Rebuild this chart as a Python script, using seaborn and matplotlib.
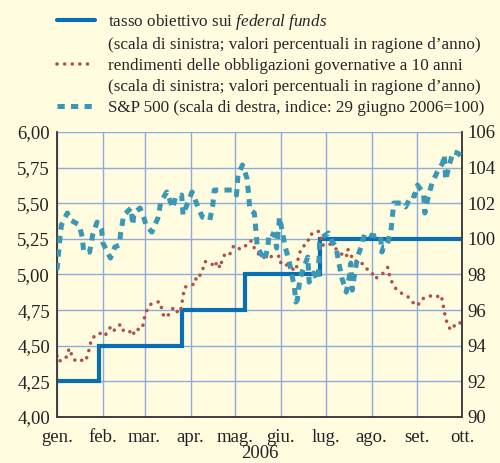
import pandas as pd
import seaborn as sns
import matplotlib.pyplot as plt
from matplotlib.lines import Line2D

# tasso obiettivo sui federal funds (scala di sinistra)
ff_dates = ['01-01', '01-29', '03-26', '05-08', '06-27', '10-01']
ff_rate = [4.25, 4.50, 4.75, 5.00, 5.25, 5.25]

# rendimenti obbligazioni a 10 anni (scala di sinistra)
bond_dates = ['01-01', '01-02', '01-07', '01-08', '01-10', '01-11', '01-14', '01-17',
              '01-20', '01-22', '01-23', '01-25', '01-29', '01-31', '02-03', '02-06',
              '02-08', '02-10', '02-13', '02-15', '02-19', '02-21', '02-23', '02-26',
              '02-28', '03-01', '03-03', '03-05', '03-08', '03-11', '03-13', '03-14',
              '03-17', '03-19', '03-21', '03-22', '03-25', '03-26', '03-27', '03-28',
              '04-02', '04-04', '04-05', '04-07', '04-09', '04-10', '04-11', '04-15',
              '04-17', '04-19', '04-21', '04-22', '04-24', '04-26', '04-28', '04-30',
              '05-02', '05-04', '05-07', '05-10', '05-12', '05-14', '05-16', '05-19',
              '05-23', '05-28', '05-31', '06-01', '06-03', '06-07', '06-11', '06-12',
              '06-13', '06-15', '06-19', '06-20', '06-25', '06-26', '06-28', '06-29',
              '07-03', '07-07', '07-11', '07-15', '07-16', '07-17', '07-21', '07-23',
              '07-25', '07-27', '08-01', '08-03', '08-05', '08-09', '08-12', '08-13',
              '08-15', '08-17', '08-21', '08-26', '08-28', '09-01', '09-04', '09-07',
              '09-10', '09-13', '09-17', '09-18', '09-19', '09-20', '09-22', '09-24',
              '09-27', '10-01']
bond_yield = [4.43, 4.39, 4.41, 4.46, 4.48, 4.42, 4.39, 4.40,
              4.39, 4.44, 4.50, 4.56, 4.57, 4.60, 4.58, 4.63,
              4.60, 4.63, 4.65, 4.60, 4.60, 4.57, 4.62, 4.61,
              4.645, 4.70, 4.76, 4.79, 4.80, 4.81, 4.75, 4.70,
              4.715, 4.75, 4.77, 4.745, 4.73, 4.785, 4.85, 4.91,
              4.93, 4.93, 4.99, 4.985, 5.04, 5.045, 5.09, 5.08,
              5.05, 5.09, 5.045, 5.09, 5.14, 5.13, 5.15, 5.20,
              5.20, 5.18, 5.185, 5.23, 5.235, 5.185, 5.155, 5.115,
              5.13, 5.12, 5.13, 5.075, 5.08, 5.05, 5.025, 5.08,
              5.135, 5.19, 5.22, 5.275, 5.30, 5.305, 5.26, 5.205,
              5.22, 5.19, 5.15, 5.12, 5.18, 5.15, 5.09, 5.10,
              5.09, 5.05, 5.02, 4.97, 4.98, 5.01, 5.05, 5.00,
              4.94, 4.905, 4.87, 4.84, 4.81, 4.78, 4.83, 4.835,
              4.85, 4.84, 4.855, 4.80, 4.745, 4.69, 4.63, 4.61,
              4.66, 4.66]

# S&P 500 (scala di destra, 29 giugno 2006 = 100)
sp_dates = ['01-01', '01-02', '01-03', '01-04', '01-08', '01-10', '01-16', '01-18',
            '01-19', '01-23', '01-25', '01-28', '01-31', '02-01', '02-04', '02-06',
            '02-09', '02-12', '02-13', '02-15', '02-20', '02-21', '02-22', '02-26',
            '02-28', '03-02', '03-03', '03-06', '03-10', '03-12', '03-16', '03-20',
            '03-22', '03-26', '03-27', '03-29', '04-02', '04-06', '04-09', '04-14',
            '04-16', '04-17', '04-23', '04-30', '05-02', '05-03', '05-06', '05-09',
            '05-10', '05-11', '05-14', '05-15', '05-16', '05-21', '05-23', '05-24',
            '05-28', '05-29', '05-31', '06-02', '06-04', '06-06', '06-08', '06-10',
            '06-11', '06-12', '06-13', '06-14', '06-15', '06-19', '06-20', '06-23',
            '06-26', '06-27', '06-29', '07-03', '07-05', '07-08', '07-10', '07-12',
            '07-15', '07-17', '07-18', '07-19', '07-21', '07-23', '07-25', '07-26',
            '07-28', '07-31', '08-04', '08-07', '08-08', '08-09', '08-11', '08-14',
            '08-15', '08-16', '08-21', '08-24', '08-28', '08-30', '09-01', '09-05',
            '09-06', '09-08', '09-11', '09-14', '09-18', '09-19', '09-20', '09-22',
            '09-25', '09-28', '10-01']
sp_index = [98.25, 99.15, 100.04, 100.78, 101.45, 101.06, 100.78, 100.10,
            99.26, 99.26, 100.21, 100.94, 100.55, 99.76, 99.26, 98.92,
            99.54, 99.65, 100.38, 101.34, 101.73, 100.78, 101.45, 101.73,
            101.34, 100.78, 100.66, 100.38, 101.17, 102.07, 102.63, 101.73,
            102.35, 102.46, 101.34, 101.79, 102.63, 101.79, 101.22, 101.06,
            101.90, 102.74, 102.74, 102.74, 102.46, 103.58, 104.15, 103.42,
            102.63, 101.62, 101.45, 100.55, 99.54, 98.81, 99.48, 100.33,
            100.21, 99.48, 101.22, 100.33, 99.48, 98.92, 98.13, 97.29,
            96.45, 96.56, 97.29, 97.85, 98.08, 98.98, 97.57, 98.08,
            97.69, 99.76, 100.10, 100.33, 99.93, 99.54, 98.64, 97.80,
            97.01, 97.85, 98.64, 97.12, 98.25, 99.09, 99.54, 99.93,
            100.33, 100.21, 100.16, 100.21, 99.26, 99.54, 99.54, 100.38,
            101.17, 102.01, 102.01, 101.79, 102.46, 102.40, 103.02, 102.57,
            101.45, 102.29, 103.19, 103.70, 104.26, 104.71, 103.30, 104.03,
            104.88, 104.82, 104.60]

month_starts = ['01-01', '02-01', '03-01', '04-01', '05-01', '06-01', '07-01',
                '08-01', '09-01', '10-01']
month_labels = ['gen.', 'feb.', 'mar.', 'apr.', 'mag.', 'giu.', 'lug.', 'ago.',
                'set.', 'ott.']
left_ticks = [4.00, 4.25, 4.50, 4.75, 5.00, 5.25, 5.50, 5.75, 6.00]
left_labels = ['4,00', '4,25', '4,50', '4,75', '5,00', '5,25', '5,50', '5,75', '6,00']
right_ticks = [90, 92, 94, 96, 98, 100, 102, 104, 106]

legend_labels = [
    'tasso obiettivo sui $\\it{federal\\ funds}$',
    '(scala di sinistra; valori percentuali in ragione d\u2019anno)',
    'rendimenti delle obbligazioni governative a 10 anni',
    '(scala di sinistra; valori percentuali in ragione d\u2019anno)',
    'S&P 500 (scala di destra, indice: 29 giugno 2006=100)',
]


def to_dates(days):
    return pd.to_datetime(['2006-' + d for d in days])


df_ff = pd.DataFrame({'date': to_dates(ff_dates), 'value': ff_rate})
df_bond = pd.DataFrame({'date': to_dates(bond_dates), 'value': bond_yield})
df_sp = pd.DataFrame({'date': to_dates(sp_dates), 'value': sp_index})

sns.set_style('white')
plt.rcParams['font.family'] = ['Liberation Serif', 'DejaVu Serif']
plt.rcParams['mathtext.fontset'] = 'custom'
plt.rcParams['mathtext.rm'] = 'Liberation Serif'
plt.rcParams['mathtext.it'] = 'Liberation Serif:italic'

bg = '#FFFCE0'
grid_col = '#8FAADC'
blue = '#0A6EB4'
red = '#B0514A'
teal = '#3A97B5'
txt = '#222222'

fig = plt.figure(figsize=(5.0, 4.63), dpi=100, facecolor=bg)
ax = fig.add_axes([0.114, 0.0994, 0.81, 0.6156])
ax.set_facecolor(bg)
ax2 = ax.twinx()

sns.lineplot(data=df_ff, x='date', y='value', ax=ax, color=blue, lw=3.0,
             drawstyle='steps-post', solid_joinstyle='miter', zorder=3)
sns.lineplot(data=df_bond, x='date', y='value', ax=ax, color=red, lw=2.6,
             ls=(0, (0.01, 2.1)), dash_capstyle='round', zorder=4)
sns.lineplot(data=df_sp, x='date', y='value', ax=ax2, color=teal, lw=3.6,
             ls=(0, (1.45, 1.25)), dash_capstyle='butt', zorder=5)

ax.set_xlim(pd.Timestamp('2006-01-01'), pd.Timestamp('2006-10-01'))
ax.set_ylim(4.0, 6.0)
ax2.set_ylim(90, 106)
ax.set_yticks(left_ticks)
ax.set_yticklabels(left_labels)
ax2.set_yticks(right_ticks)
ax.set_xticks(to_dates(month_starts))
ax.set_xticklabels(month_labels)

ax.set_axisbelow(True)
ax.grid(True, color=grid_col, lw=1.0)
ax2.grid(False)

for a in (ax, ax2):
    for side in ('left', 'right', 'bottom'):
        a.spines[side].set_visible(True)
        a.spines[side].set_color('#3a3a3a')
        a.spines[side].set_linewidth(1.1)
    a.spines['top'].set_visible(False)
    a.set_ylabel('')

ax.tick_params(axis='y', length=0, pad=5, labelsize=13.5, colors=txt)
ax2.tick_params(axis='y', length=0, pad=4, labelsize=13.5, colors=txt)
ax.tick_params(axis='x', length=4, width=1.0, direction='inout', pad=7,
               labelsize=13.5, colors=txt, color='#777777')
ax.set_xlabel('2006', fontsize=13.5, color=txt, labelpad=-1)

blank = Line2D([], [], color='none')
handles = [
    Line2D([], [], color=blue, lw=3.0),
    blank,
    Line2D([], [], color=red, lw=2.6, ls=(0, (0.01, 2.1)), dash_capstyle='round'),
    blank,
    Line2D([], [], color=teal, lw=3.6, ls=(0, (1.45, 1.25))),
]
fig.legend(handles, legend_labels, loc='upper left', bbox_to_anchor=(0.114, 0.975),
           frameon=False, fontsize=12.3, handlelength=2.25, handletextpad=0.75,
           labelspacing=0.3, borderpad=0, borderaxespad=0)

plt.savefig('out.png', dpi=100, facecolor=bg)
